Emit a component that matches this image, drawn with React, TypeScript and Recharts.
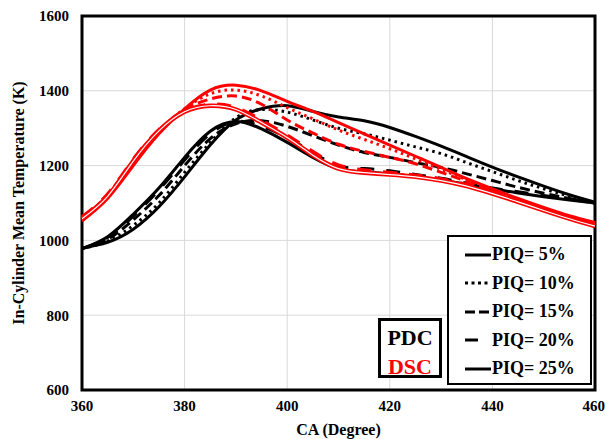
import React from "react";
import {
  CartesianGrid,
  Line,
  LineChart,
  ReferenceArea,
  XAxis,
  YAxis,
} from "recharts";

// crank angle (deg), every 5 degrees
const ca = [360, 365, 370, 375, 380, 385, 390, 395, 400, 405, 410, 415, 420, 425, 430, 435, 440, 445, 450, 455, 460];

// PDC (black) in-cylinder mean temperature (K)
const pdc5 = [980, 995, 1030, 1090, 1170, 1255, 1322, 1352, 1360, 1345, 1330, 1320, 1302, 1278, 1252, 1224, 1196, 1170, 1145, 1122, 1102];
const pdc10 = [978, 998, 1040, 1100, 1182, 1262, 1328, 1350, 1343, 1322, 1300, 1285, 1268, 1250, 1232, 1208, 1184, 1160, 1138, 1118, 1100];
const pdc15 = [978, 1003, 1055, 1120, 1200, 1272, 1312, 1320, 1305, 1280, 1255, 1235, 1222, 1208, 1195, 1178, 1160, 1142, 1126, 1112, 1100];
const pdc20 = [978, 1008, 1065, 1135, 1215, 1285, 1318, 1305, 1275, 1235, 1200, 1192, 1186, 1176, 1166, 1153, 1140, 1130, 1120, 1110, 1100];
const pdc25 = [978, 1010, 1070, 1140, 1222, 1292, 1318, 1298, 1262, 1222, 1192, 1183, 1178, 1170, 1160, 1150, 1138, 1127, 1117, 1108, 1100];

// DSC (red)
const dsc5 = [1052, 1112, 1200, 1285, 1352, 1402, 1415, 1400, 1372, 1345, 1315, 1285, 1255, 1225, 1195, 1165, 1138, 1112, 1088, 1066, 1048];
const dsc10 = [1060, 1120, 1210, 1292, 1352, 1392, 1402, 1386, 1355, 1325, 1295, 1270, 1245, 1218, 1190, 1162, 1135, 1110, 1086, 1064, 1046];
const dsc15 = [1060, 1122, 1215, 1295, 1350, 1378, 1386, 1364, 1322, 1287, 1257, 1238, 1222, 1205, 1182, 1158, 1132, 1108, 1085, 1062, 1042];
const dsc20 = [1064, 1125, 1218, 1297, 1346, 1364, 1356, 1322, 1282, 1238, 1202, 1189, 1182, 1175, 1165, 1150, 1130, 1108, 1085, 1062, 1040];
const dsc25 = [1058, 1118, 1212, 1293, 1344, 1360, 1350, 1315, 1275, 1228, 1192, 1181, 1176, 1170, 1160, 1145, 1125, 1103, 1080, 1058, 1038];

const xTicks = [360, 380, 400, 420, 440, 460];
const yTicks = [600, 800, 1000, 1200, 1400, 1600];
const piqLabels = ["PIQ= 5%", "PIQ= 10%", "PIQ= 15%", "PIQ= 20%", "PIQ= 25%"];

const data = ca.map((x, i) => ({
  ca: x,
  pdc5: pdc5[i],
  pdc10: pdc10[i],
  pdc15: pdc15[i],
  pdc20: pdc20[i],
  pdc25: pdc25[i],
  dsc5: dsc5[i],
  dsc10: dsc10[i],
  dsc15: dsc15[i],
  dsc20: dsc20[i],
  dsc25: dsc25[i],
}));

const FONT = "'Liberation Serif', 'Times New Roman', serif";
const RED = "#ff0000";

// line dash per PIQ level, in the plot and in the legend
const plotDash = ["", "2.5 4", "10 5", "14 12", ""];
const legendDash = ["", "3 3.5", "10 4", "13 20", ""];

const PiqLegend = () => (
  <div
    style={{
      position: "absolute",
      left: 447,
      top: 235,
      width: 145,
      height: 150,
      border: "2px solid #000",
      boxSizing: "border-box",
      background: "#fff",
      fontFamily: FONT,
      fontWeight: "bold",
      fontSize: 18,
    }}
  >
    {piqLabels.map((label, i) => (
      <div
        key={label}
        style={{ position: "absolute", left: 0, top: 3 + i * 28.5, height: 29, display: "flex", alignItems: "center" }}
      >
        <svg width={26} height={8} style={{ marginLeft: 16, marginRight: 1 }}>
          <line x1={0} x2={26} y1={4} y2={4} stroke="#000" strokeWidth={3} strokeDasharray={legendDash[i]} />
        </svg>
        <span style={{ lineHeight: "29px", whiteSpace: "nowrap" }}>{label}</span>
      </div>
    ))}
  </div>
);

const YTitle = ({ viewBox }: any) => {
  const cy = viewBox.y + viewBox.height / 2;
  return (
    <text
      x={18}
      y={cy}
      transform={`rotate(-90, 18, ${cy})`}
      textAnchor="middle"
      dominantBaseline="central"
      style={{ fontFamily: FONT, fontWeight: "bold", fontSize: 16, fill: "#000" }}
    >
      In-Cylinder Mean Temperature (K)
    </text>
  );
};

const XTitle = ({ viewBox }: any) => (
  <text
    x={viewBox.x + viewBox.width / 2}
    y={435}
    textAnchor="middle"
    style={{ fontFamily: FONT, fontWeight: "bold", fontSize: 16, fill: "#000" }}
  >
    CA (Degree)
  </text>
);

const tickStyle = { fontFamily: FONT, fontWeight: "bold", fontSize: 15, fill: "#000" };

export default function App() {
  return (
    <div style={{ position: "absolute", left: 0, top: 0, width: 605, height: 439, background: "#fff" }}>
      <LineChart width={605} height={439} data={data} margin={{ top: 16, right: 10, bottom: 0, left: 0 }}>
        <CartesianGrid stroke="#d9d9d9" strokeWidth={1} />
        <XAxis
          dataKey="ca"
          type="number"
          domain={[360, 460]}
          ticks={xTicks}
          height={49}
          axisLine={false}
          tickLine={false}
          tickSize={0}
          tickMargin={10}
          tick={tickStyle}
          label={<XTitle />}
        />
        <YAxis
          type="number"
          domain={[600, 1600]}
          ticks={yTicks}
          width={82}
          axisLine={false}
          tickLine={false}
          tickSize={0}
          tickMargin={13}
          tick={tickStyle}
          label={<YTitle />}
        />

        <Line dataKey="pdc5" type="natural" stroke="#000" strokeWidth={3} dot={false} isAnimationActive={false} />
        <Line dataKey="pdc10" type="natural" stroke="#000" strokeWidth={3} strokeDasharray={plotDash[1]} dot={false} isAnimationActive={false} />
        <Line dataKey="pdc15" type="natural" stroke="#000" strokeWidth={3} strokeDasharray={plotDash[2]} dot={false} isAnimationActive={false} />
        <Line dataKey="pdc20" type="natural" stroke="#000" strokeWidth={3} strokeDasharray={plotDash[3]} dot={false} isAnimationActive={false} />
        <Line dataKey="pdc25" type="natural" stroke="#000" strokeWidth={3} dot={false} isAnimationActive={false} />

        <Line dataKey="dsc5" type="natural" stroke={RED} strokeWidth={3} dot={false} isAnimationActive={false} />
        <Line dataKey="dsc10" type="natural" stroke={RED} strokeWidth={3} strokeDasharray={plotDash[1]} dot={false} isAnimationActive={false} />
        <Line dataKey="dsc15" type="natural" stroke={RED} strokeWidth={3} strokeDasharray={plotDash[2]} dot={false} isAnimationActive={false} />
        <Line dataKey="dsc20" type="natural" stroke={RED} strokeWidth={3} strokeDasharray={plotDash[3]} dot={false} isAnimationActive={false} />
        {/* double (compound) red line for 25% */}
        <Line dataKey="dsc25" type="natural" stroke={RED} strokeWidth={4.5} dot={false} isAnimationActive={false} />
        <Line dataKey="dsc25" type="natural" stroke="#fff" strokeWidth={1.2} dot={false} isAnimationActive={false} />

        <ReferenceArea x1={360} x2={460} y1={600} y2={1600} fill="none" stroke="#000" strokeWidth={3} ifOverflow="visible" />
      </LineChart>

      <PiqLegend />

      <div
        style={{
          position: "absolute",
          left: 378,
          top: 318,
          width: 64,
          height: 60,
          border: "3px solid #000",
          boxSizing: "border-box",
          background: "#fff",
          paddingTop: 2,
          textAlign: "center",
          fontFamily: FONT,
          fontWeight: "bold",
          fontSize: 22,
          lineHeight: "29px",
        }}
      >
        <div style={{ color: "#000" }}>PDC</div>
        <div style={{ color: RED }}>DSC</div>
      </div>
    </div>
  );
}
